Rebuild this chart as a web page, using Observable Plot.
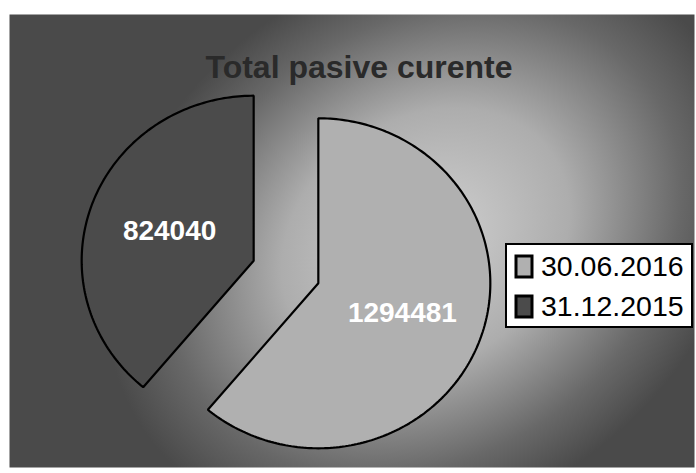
<!DOCTYPE html>
<html>
<head>
<meta charset="utf-8">
<script src="https://cdn.jsdelivr.net/npm/d3@7"></script>
<script src="https://cdn.jsdelivr.net/npm/@observablehq/plot@0.6"></script>
<style>
  body { margin: 0; background: #fff; }
  #chart { position: relative; width: 696px; height: 473px; overflow: hidden; }
  #chart svg.main { position: absolute; left: 0; top: 0; }
  #legendbox {
    position: absolute; left: 505px; top: 243px; width: 188px; height: 85px;
    box-sizing: border-box; background: #fff; border: 2px solid #000;
    padding: 1px 0 0 9px;
  }
  #legendbox .lg-swatches {
    display: flex; flex-direction: column; align-items: flex-start;
    margin: 0; min-height: 0;
    font-family: "Liberation Sans", Arial, sans-serif; font-size: 28.5px; color: #000;
  }
  #legendbox .lg-swatch {
    display: flex; align-items: center; height: 40px; line-height: 40px; margin: 0; padding: 0;
  }
  #legendbox .lg-swatch svg { margin-right: 9px; }
  #legendbox .lg-swatch svg rect { stroke: #000; stroke-width: 3; }
</style>
</head>
<body>
<div id="chart"></div>
<script>
// ---- data ----
const chartTitle = "Total pasive curente";
const categories = ["30.06.2016", "31.12.2015"];
const values = [1294481, 824040];
const sliceColors = ["#b0b0b0", "#4b4b4b"];

// ---- geometry in unit pie coordinates (y up) ----
const explode = 0.2;      // exploded offset, fraction of radius
const labelRadius = 0.52; // label position from slice apex, fraction of radius
const arcs = d3.pie().sort(null)(values);

const slicePoints = [];
const labelData = [];
arcs.forEach((a, i) => {
  const mid = (a.startAngle + a.endAngle) / 2;
  const ox = explode * Math.sin(mid), oy = explode * Math.cos(mid);
  slicePoints.push({cat: categories[i], x: ox, y: oy});
  const steps = Math.max(2, Math.ceil((a.endAngle - a.startAngle) / (Math.PI / 180)));
  for (let k = 0; k <= steps; ++k) {
    const t = a.startAngle + (a.endAngle - a.startAngle) * k / steps;
    slicePoints.push({cat: categories[i], x: ox + Math.sin(t), y: oy + Math.cos(t)});
  }
  labelData.push({
    x: ox + labelRadius * Math.sin(mid),
    y: oy + labelRadius * Math.cos(mid),
    text: String(values[i])
  });
});

const cx = 285.5, cy = 271.5, rx = 172, ry = 165;

const svg = Plot.plot({
  width: 696,
  height: 473,
  marginLeft: 9, marginTop: 14, marginRight: 2, marginBottom: 6,
  style: {background: "transparent", fontFamily: "'Liberation Sans', Arial, sans-serif"},
  x: {domain: [-1, 1], range: [cx - rx, cx + rx], axis: null},
  y: {domain: [-1, 1], range: [cy + ry, cy - ry], axis: null},
  color: {type: "ordinal", domain: categories, range: sliceColors},
  marks: [
    Plot.frame({fill: "url(#bgGrad)", stroke: "none"}),
    Plot.line(slicePoints, {x: "x", y: "y", z: "cat", fill: "cat", stroke: "#000", strokeWidth: 2.2, curve: "linear-closed", strokeLinejoin: "miter"}),
    Plot.text(labelData, {x: "x", y: "y", text: "text", fill: "#fff", fontSize: 28, fontWeight: "bold"}),
    Plot.text([chartTitle], {frameAnchor: "top", dy: 41, dx: 7, fontSize: 32, fontWeight: "bold", fill: "#2a2a2a"})
  ]
});
svg.classList.add("main");

// background gradient definition
const ns = "http://www.w3.org/2000/svg";
const defs = document.createElementNS(ns, "defs");
defs.innerHTML = `
  <radialGradient id="bgGrad" gradientUnits="userSpaceOnUse" cx="0" cy="0" r="1"
      gradientTransform="translate(425,240) rotate(-34) scale(340,270)">
    <stop offset="0" stop-color="#d2d2d2"/>
    <stop offset="0.45" stop-color="#adadad"/>
    <stop offset="0.8" stop-color="#686868"/>
    <stop offset="1" stop-color="#4a4a4a"/>
  </radialGradient>`;
svg.insertBefore(defs, svg.firstChild);

const chart = document.getElementById("chart");
chart.appendChild(svg);

const legend = Plot.legend({
  color: {type: "ordinal", domain: categories, range: sliceColors},
  swatchWidth: 16, swatchHeight: 21,
  className: "lg"
});
const box = document.createElement("div");
box.id = "legendbox";
box.appendChild(legend);
chart.appendChild(box);
</script>
</body>
</html>
